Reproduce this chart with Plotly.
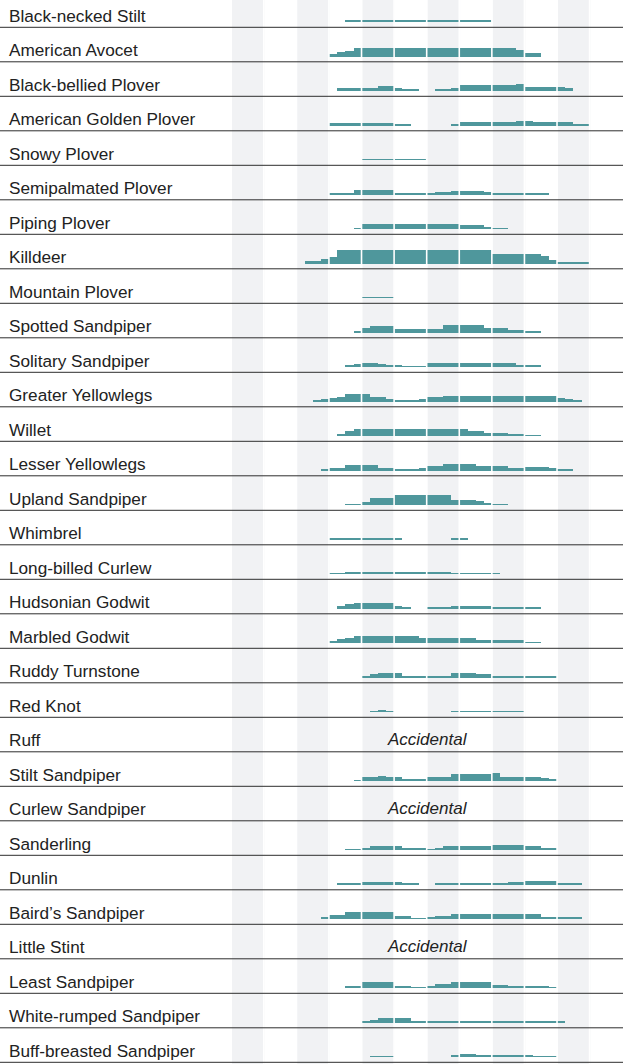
import plotly.graph_objects as go

# weekly abundance (bar height), 4 weeks per month, Jan..Dec
species = ["Black-necked Stilt", "American Avocet", "Black-bellied Plover", "American Golden Plover",
           "Snowy Plover", "Semipalmated Plover", "Piping Plover", "Killdeer", "Mountain Plover",
           "Spotted Sandpiper", "Solitary Sandpiper", "Greater Yellowlegs", "Willet", "Lesser Yellowlegs",
           "Upland Sandpiper", "Whimbrel", "Long-billed Curlew", "Hudsonian Godwit", "Marbled Godwit",
           "Ruddy Turnstone", "Red Knot", "Ruff", "Stilt Sandpiper", "Curlew Sandpiper", "Sanderling",
           "Dunlin", "Baird\u2019s Sandpiper", "Little Stint", "Least Sandpiper", "White-rumped Sandpiper",
           "Buff-breasted Sandpiper"]

black_necked_stilt = [0, 0, 0, 0, 0, 0, 0, 0, 0, 0, 0, 0, 0, 0, 1.7, 1.7, 1.7, 1.7, 1.7, 1.7, 1.7, 1.7, 1.7, 1.7, 1.7, 1.7, 1.7, 1.7, 1.7, 1.7, 1.7, 1.7, 0, 0, 0, 0, 0, 0, 0, 0, 0, 0, 0, 0, 0, 0, 0, 0]
american_avocet = [0, 0, 0, 0, 0, 0, 0, 0, 0, 0, 0, 0, 2.7, 4.7, 5.7, 8.3, 8.3, 8.3, 8.3, 8.3, 8.3, 8.3, 8.3, 8.3, 8.3, 8.3, 8.3, 8.3, 8.3, 8.3, 8.3, 8.3, 8.3, 8.3, 8.3, 6.7, 3.7, 3.7, 0, 0, 0, 0, 0, 0, 0, 0, 0, 0]
black_bellied_plover = [0, 0, 0, 0, 0, 0, 0, 0, 0, 0, 0, 0, 0, 2.7, 2.7, 2.7, 2.7, 2.7, 4.7, 4.7, 2.7, 1.7, 1.7, 0, 0, 1.7, 1.7, 2.7, 5.7, 5.7, 5.7, 5.7, 5.7, 5.7, 5.7, 6.7, 3.7, 3.7, 3.7, 3.7, 3.7, 2.7, 0, 0, 0, 0, 0, 0]
american_golden_plover = [0, 0, 0, 0, 0, 0, 0, 0, 0, 0, 0, 0, 2.7, 2.7, 2.7, 2.7, 2.7, 2.7, 2.7, 2.7, 1.7, 1.7, 0, 0, 0, 0, 0, 1.7, 3.7, 3.7, 3.7, 3.7, 3.7, 3.7, 3.7, 4.7, 4.7, 3.7, 3.7, 3.7, 3.7, 3.7, 1.7, 1.7, 0, 0, 0, 0]
snowy_plover = [0, 0, 0, 0, 0, 0, 0, 0, 0, 0, 0, 0, 0, 0, 0, 0, 1, 1, 1, 1, 1, 1, 1, 1, 0, 0, 0, 0, 0, 0, 0, 0, 0, 0, 0, 0, 0, 0, 0, 0, 0, 0, 0, 0, 0, 0, 0, 0]
semipalmated_plover = [0, 0, 0, 0, 0, 0, 0, 0, 0, 0, 0, 0, 1, 1, 1, 4.7, 4.7, 4.7, 4.7, 4.7, 1.7, 1.7, 1, 1, 1.7, 2.7, 2.7, 3.7, 3.7, 3.7, 3.7, 2.7, 1, 1, 1, 1, 1, 1, 1, 0, 0, 0, 0, 0, 0, 0, 0, 0]
piping_plover = [0, 0, 0, 0, 0, 0, 0, 0, 0, 0, 0, 0, 0, 0, 0, 1, 5, 5, 5, 5, 5, 5, 5, 5, 5, 5, 5, 5, 4, 4, 4, 1.5, 1, 1, 0, 0, 0, 0, 0, 0, 0, 0, 0, 0, 0, 0, 0, 0]
killdeer = [0, 0, 0, 0, 0, 0, 0, 0, 0, 3, 3, 5, 7, 14, 14, 14, 14, 14, 14, 14, 14, 14, 14, 14, 14, 14, 14, 14, 14, 14, 14, 14, 10, 10, 10, 10, 10, 10, 8, 4, 1.3, 1.3, 1.3, 1.3, 0, 0, 0, 0]
mountain_plover = [0, 0, 0, 0, 0, 0, 0, 0, 0, 0, 0, 0, 0, 0, 0, 0, 1, 1, 1, 1, 0, 0, 0, 0, 0, 0, 0, 0, 0, 0, 0, 0, 0, 0, 0, 0, 0, 0, 0, 0, 0, 0, 0, 0, 0, 0, 0, 0]
spotted_sandpiper = [0, 0, 0, 0, 0, 0, 0, 0, 0, 0, 0, 0, 0, 0, 0, 1, 5, 7, 7, 7, 4, 4, 4, 4, 4, 4, 8, 8, 8, 8, 8, 5, 5, 5, 3, 3, 2, 2, 0, 0, 0, 0, 0, 0, 0, 0, 0, 0]
solitary_sandpiper = [0, 0, 0, 0, 0, 0, 0, 0, 0, 0, 0, 0, 0, 0, 2, 3, 4, 4, 3, 2, 2, 1, 1, 1, 4, 4, 4, 4, 4, 4, 4, 4, 4, 4, 4, 2, 2, 2, 0, 0, 0, 0, 0, 0, 0, 0, 0, 0]
greater_yellowlegs = [0, 0, 0, 0, 0, 0, 0, 0, 0, 0, 1, 2.7, 3.7, 4.7, 7.7, 7.7, 7.7, 4.7, 4.7, 2.7, 1, 1, 1, 2.7, 4.7, 4.7, 5.7, 5.7, 5.7, 5.7, 5.7, 5.7, 5.7, 5.7, 5.7, 5.7, 5.7, 5.7, 5.7, 5.7, 3.7, 2.7, 1.5, 0, 0, 0, 0, 0]
willet = [0, 0, 0, 0, 0, 0, 0, 0, 0, 0, 0, 0, 0, 2, 4.7, 6.7, 6.7, 6.7, 6.7, 6.7, 6.7, 6.7, 6.7, 6.7, 6.7, 6.7, 6.7, 6.7, 6.7, 4.7, 4.7, 2.7, 2.7, 2.7, 1.7, 1.7, 1, 1, 0, 0, 0, 0, 0, 0, 0, 0, 0, 0]
lesser_yellowlegs = [0, 0, 0, 0, 0, 0, 0, 0, 0, 0, 0, 1.3, 3, 3, 6, 6, 6, 6, 3, 3, 1.3, 1.3, 1.3, 3, 5, 5, 7, 7, 7, 7, 5, 5, 5, 5, 3, 3, 4, 4, 4, 3, 2, 1, 0, 0, 0, 0, 0, 0]
upland_sandpiper = [0, 0, 0, 0, 0, 0, 0, 0, 0, 0, 0, 0, 0, 0, 1, 1, 2.7, 6.7, 6.7, 6.7, 9.7, 9.7, 9.7, 9.7, 9.7, 9.7, 9.7, 4.7, 4.7, 4.7, 3.7, 1.7, 1, 1, 0, 0, 0, 0, 0, 0, 0, 0, 0, 0, 0, 0, 0, 0]
whimbrel = [0, 0, 0, 0, 0, 0, 0, 0, 0, 0, 0, 0, 1, 1, 1, 1, 1, 1, 1, 1, 1, 0, 0, 0, 0, 0, 0, 1, 1, 0, 0, 0, 0, 0, 0, 0, 0, 0, 0, 0, 0, 0, 0, 0, 0, 0, 0, 0]
long_billed_curlew = [0, 0, 0, 0, 0, 0, 0, 0, 0, 0, 0, 0, 1, 1, 2, 2, 2, 2, 2, 2, 2, 2, 2, 2, 2, 2, 2, 1, 1, 1, 1, 1, 1, 0, 0, 0, 0, 0, 0, 0, 0, 0, 0, 0, 0, 0, 0, 0]
hudsonian_godwit = [0, 0, 0, 0, 0, 0, 0, 0, 0, 0, 0, 0, 0, 3, 4.7, 5.7, 5.7, 5.7, 5.7, 5.7, 3, 1, 0, 0, 1, 1, 1, 3, 3, 3, 3, 3, 1, 1, 1, 1, 1, 1, 0, 0, 0, 0, 0, 0, 0, 0, 0, 0]
marbled_godwit = [0, 0, 0, 0, 0, 0, 0, 0, 0, 0, 0, 0, 2, 4, 5, 7, 7, 7, 7, 7, 7, 7, 7, 5, 5, 5, 5, 5, 5, 5, 3, 3, 3, 3, 3, 3, 1, 1, 0, 0, 0, 0, 0, 0, 0, 0, 0, 0]
ruddy_turnstone = [0, 0, 0, 0, 0, 0, 0, 0, 0, 0, 0, 0, 0, 0, 0, 0, 1, 3.7, 4.7, 4.7, 4.7, 1.7, 1.7, 1.7, 1.7, 1.7, 1.7, 4.7, 4.7, 4.7, 3.7, 3.7, 1, 1, 1, 1, 1, 1, 1, 1, 0, 0, 0, 0, 0, 0, 0, 0]
red_knot = [0, 0, 0, 0, 0, 0, 0, 0, 0, 0, 0, 0, 0, 0, 0, 0, 0, 1, 1.7, 1, 0, 0, 0, 0, 0, 0, 0, 1, 1, 1, 1, 1, 1, 1, 1, 1, 0, 0, 0, 0, 0, 0, 0, 0, 0, 0, 0, 0]
ruff = None
stilt_sandpiper = [0, 0, 0, 0, 0, 0, 0, 0, 0, 0, 0, 0, 0, 0, 0, 1, 4, 4, 5, 4, 4, 2, 2, 2, 4, 4, 4, 7, 7, 7, 7, 7, 8, 4, 4, 4, 4, 4, 3, 2, 0, 0, 0, 0, 0, 0, 0, 0]
curlew_sandpiper = None
sanderling = [0, 0, 0, 0, 0, 0, 0, 0, 0, 0, 0, 0, 0, 0, 1, 1, 2, 4, 4, 4, 4, 2, 2, 2, 1, 2, 4, 4, 4, 4, 4, 4, 5, 5, 5, 5, 4, 4, 2, 2, 0, 0, 0, 0, 0, 0, 0, 0]
dunlin = [0, 0, 0, 0, 0, 0, 0, 0, 0, 0, 0, 0, 0, 1, 2, 2, 3, 3, 3, 3, 3, 1, 1, 0, 0, 1, 1, 1, 1, 1, 1, 1, 1, 1, 3, 3, 4, 4, 4, 4, 1, 1, 1, 0, 0, 0, 0, 0]
bairds_sandpiper = [0, 0, 0, 0, 0, 0, 0, 0, 0, 0, 0, 2, 4, 4, 7, 7, 7, 7, 7, 7, 3, 3, 1, 1, 1.5, 3, 3, 5, 5, 5, 5, 5, 5, 5, 5, 5, 5, 5, 2, 2, 2, 2, 2, 0, 0, 0, 0, 0]
little_stint = None
least_sandpiper = [0, 0, 0, 0, 0, 0, 0, 0, 0, 0, 0, 0, 0, 0, 1.3, 2.3, 6.3, 6.3, 6.3, 6.3, 2.3, 1.3, 1, 1, 2, 4.5, 4.5, 6.3, 6.3, 6.3, 6.3, 6.3, 3.3, 3.3, 1.3, 1.3, 2.3, 2.3, 2.3, 1, 0, 0, 0, 0, 0, 0, 0, 0]
white_rumped_sandpiper = [0, 0, 0, 0, 0, 0, 0, 0, 0, 0, 0, 0, 0, 0, 0, 0, 1.7, 2.7, 4.7, 4.7, 4.7, 4.7, 1.7, 1, 1, 1, 1, 1, 1, 1, 1, 1, 1, 1, 1, 1, 1, 1, 1, 1, 1, 0, 0, 0, 0, 0, 0, 0]
buff_breasted_sandpiper = [0, 0, 0, 0, 0, 0, 0, 0, 0, 0, 0, 0, 0, 0, 0, 0, 0, 1, 1, 1, 0, 0, 0, 0, 0, 0, 0, 2, 3, 3, 2, 2, 2, 2, 2, 2, 2, 1, 1, 1, 0, 0, 0, 0, 0, 0, 0, 0]

rows = [black_necked_stilt, american_avocet, black_bellied_plover, american_golden_plover, snowy_plover,
        semipalmated_plover, piping_plover, killdeer, mountain_plover, spotted_sandpiper, solitary_sandpiper,
        greater_yellowlegs, willet, lesser_yellowlegs, upland_sandpiper, whimbrel, long_billed_curlew,
        hudsonian_godwit, marbled_godwit, ruddy_turnstone, red_knot, ruff, stilt_sandpiper, curlew_sandpiper,
        sanderling, dunlin, bairds_sandpiper, little_stint, least_sandpiper, white_rumped_sandpiper,
        buff_breasted_sandpiper]

W, H = 623, 1064
ROW_H = 34.5
FIRST_LINE = 27.3      # pixel y of first row rule
BAR_LIFT = 5.3         # bar baseline sits this far above the rule
YEAR_X0 = 232          # pixel x where January starts
WEEK_PX = (W - YEAR_X0) / 48.0

TEAL = "#4f979c"
SHADE = "#f1f2f4"
FONT = "Liberation Sans, Arial, sans-serif"

xs, ys, bases = [], [], []
for i, vals in enumerate(rows):
    if vals is None:
        continue
    line_px = FIRST_LINE + i * ROW_H
    for k, v in enumerate(vals):
        if v:
            xs.append(k + 0.5 - 0.08)
            ys.append(v)
            bases.append(H - line_px + BAR_LIFT)

fig = go.Figure(go.Bar(x=xs, y=ys, base=bases, width=1.0, marker=dict(color=TEAL, line=dict(width=0)),
                       hoverinfo="skip"))

shapes = []
for m in range(0, 12, 2):
    shapes.append(dict(type="rect", xref="x", yref="paper", x0=4 * m, x1=4 * m + 4, y0=0, y1=1,
                       fillcolor=SHADE, line=dict(width=0), layer="below"))
for m in range(1, 12):
    shapes.append(dict(type="line", xref="x", yref="paper", x0=4 * m - 0.1, x1=4 * m - 0.1, y0=0, y1=1,
                       line=dict(color="white", width=1.6), layer="above"))
for i in range(len(species)):
    yl = H - (FIRST_LINE + i * ROW_H)
    shapes.append(dict(type="line", xref="paper", yref="y", x0=0, x1=1, y0=yl, y1=yl,
                       line=dict(color="#2e2e2e", width=1), layer="above"))

annotations = []
for i, name in enumerate(species):
    line_px = FIRST_LINE + i * ROW_H
    annotations.append(dict(x=7 / W, xref="paper", y=H - (line_px - 11.8), yref="y", text=name,
                            showarrow=False, xanchor="left", yanchor="middle",
                            font=dict(family=FONT, size=17.2, color="#222222")))
    if rows[i] is None:
        annotations.append(dict(x=24, xref="x", y=H - (line_px - 12.5), yref="y", text="<i>Accidental</i>",
                                showarrow=False, xanchor="center", yanchor="middle",
                                font=dict(family=FONT, size=17, color="#222222")))

fig.update_layout(
    width=W, height=H, margin=dict(l=0, r=0, t=0, b=0),
    paper_bgcolor="white", plot_bgcolor="white", showlegend=False, bargap=0,
    xaxis=dict(range=[-YEAR_X0 / WEEK_PX, 48], visible=False, fixedrange=True),
    yaxis=dict(range=[0, H], visible=False, fixedrange=True),
    shapes=shapes, annotations=annotations,
)

# page has a default 8px body margin; drop it so the figure fills the window
fig.write_html("out.html", config={"displayModeBar": False},
               post_script="document.body.style.margin='0';")
